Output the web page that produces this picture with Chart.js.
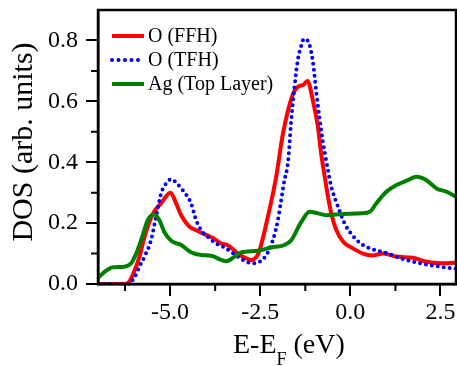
<!DOCTYPE html>
<html>
<head>
<meta charset="utf-8">
<script src="https://cdn.jsdelivr.net/npm/chart.js@4.4.0/dist/chart.umd.min.js"></script>
<style>
  html, body { margin: 0; padding: 0; background: #fff; }
  #wrap { width: 457px; height: 366px; }
</style>
</head>
<body>
<div id="wrap"><canvas id="dosChart" width="457" height="366"></canvas></div>
<script>
// O (FFH) projected DOS
const xFFH = [-7.0, -6.6, -6.3, -6.15, -6.0, -5.85, -5.71, -5.48, -5.25, -4.99, -4.85, -4.69, -4.46, -4.25, -4.05, -3.8, -3.58, -3.4, -3.12, -2.9, -2.75, -2.6, -2.52, -2.29, -2.06, -1.87, -1.59, -1.46, -1.3, -1.19, -1.04, -0.9, -0.81, -0.71, -0.62, -0.53, -0.39, -0.2, 0.07, 0.35, 0.6, 0.91, 1.28, 1.74, 2.11, 2.48, 2.93];
const yFFH = [0, 0, 0, 0.005, 0.04, 0.09, 0.155, 0.23, 0.265, 0.30, 0.27, 0.225, 0.188, 0.175, 0.164, 0.15, 0.133, 0.127, 0.10, 0.085, 0.079, 0.09, 0.11, 0.22, 0.35, 0.494, 0.625, 0.647, 0.655, 0.667, 0.603, 0.516, 0.428, 0.352, 0.286, 0.232, 0.177, 0.139, 0.117, 0.10, 0.094, 0.10, 0.09, 0.086, 0.073, 0.068, 0.07];

// O (TFH) projected DOS
const xTFH = [-7.0, -6.5, -6.2, -6.0, -5.85, -5.71, -5.53, -5.39, -5.25, -5.11, -4.97, -4.81, -4.65, -4.42, -4.28, -4.14, -3.91, -3.72, -3.49, -3.12, -2.89, -2.7, -2.52, -2.33, -2.15, -2.01, -1.92, -1.83, -1.73, -1.64, -1.55, -1.46, -1.36, -1.29, -1.16, -1.04, -0.94, -0.85, -0.76, -0.67, -0.53, -0.34, -0.16, 0.07, 0.35, 0.63, 1.04, 1.46, 2.02, 2.48, 2.93];
const yTFH = [0, 0, 0, 0.019, 0.057, 0.09, 0.144, 0.22, 0.297, 0.33, 0.344, 0.33, 0.308, 0.265, 0.21, 0.177, 0.15, 0.133, 0.12, 0.09, 0.073, 0.068, 0.073, 0.095, 0.144, 0.21, 0.275, 0.34, 0.40, 0.538, 0.647, 0.734, 0.784, 0.805, 0.794, 0.73, 0.625, 0.54, 0.465, 0.405, 0.32, 0.253, 0.199, 0.158, 0.128, 0.114, 0.10, 0.082, 0.066, 0.057, 0.05];

// Ag (Top Layer) DOS
const xAg = [-7.0, -6.82, -6.59, -6.27, -6.08, -5.94, -5.76, -5.62, -5.44, -5.3, -5.16, -4.97, -4.69, -4.42, -4.14, -3.86, -3.6, -3.44, -3.21, -3.03, -2.57, -2.19, -1.83, -1.64, -1.36, -1.13, -0.9, -0.67, -0.2, 0.3, 0.54, 0.72, 1.0, 1.28, 1.6, 1.83, 2.11, 2.39, 2.67, 2.93];
const yAg = [0.019, 0.04, 0.055, 0.057, 0.068, 0.10, 0.16, 0.21, 0.228, 0.21, 0.171, 0.142, 0.128, 0.104, 0.095, 0.093, 0.08, 0.075, 0.09, 0.104, 0.109, 0.12, 0.128, 0.144, 0.204, 0.237, 0.232, 0.226, 0.23, 0.232, 0.237, 0.265, 0.303, 0.325, 0.341, 0.352, 0.341, 0.314, 0.303, 0.286];

const seriesNames = ['O (FFH)', 'O (TFH)', 'Ag (Top Layer)'];
const xMinorTicks = [-6.25, -3.75, -1.25, 1.25];
const yMinorTicks = [0.1, 0.3, 0.5, 0.7];

const serif = "'Liberation Serif', 'Times New Roman', serif";
const toPts = (xs, ys) => xs.map((x, i) => ({ x: x, y: ys[i] }));

// box, minor ticks, axis titles and legend
const extras = {
  id: 'extras',
  afterDraw(chart) {
    const ctx = chart.ctx;
    const a = chart.chartArea;
    const xs = chart.scales.x, ys = chart.scales.y;
    ctx.save();
    ctx.strokeStyle = '#000';
    ctx.lineWidth = 2.5;
    ctx.strokeRect(a.left, a.top, a.right - a.left, a.bottom - a.top);

    ctx.lineWidth = 2;
    ctx.beginPath();
    xMinorTicks.forEach(v => {
      const px = xs.getPixelForValue(v);
      ctx.moveTo(px, a.bottom);
      ctx.lineTo(px, a.bottom + 7);
    });
    yMinorTicks.forEach(v => {
      const py = ys.getPixelForValue(v);
      ctx.moveTo(a.left, py);
      ctx.lineTo(a.left - 7, py);
    });
    ctx.stroke();

    // y title
    ctx.fillStyle = '#000';
    ctx.save();
    ctx.translate(24, 142);
    ctx.rotate(-Math.PI / 2);
    ctx.font = '30px ' + serif;
    ctx.textAlign = 'center';
    ctx.textBaseline = 'middle';
    ctx.fillText('DOS (arb. units)', 0, 0);
    ctx.restore();

    // x title with subscript F
    ctx.textAlign = 'left';
    ctx.textBaseline = 'alphabetic';
    let tx = 233;
    ctx.font = '28px ' + serif;
    ctx.fillText('E-E', tx, 353);
    tx += ctx.measureText('E-E').width;
    ctx.font = '18px ' + serif;
    ctx.fillText('F', tx, 365);
    tx += ctx.measureText('F').width;
    ctx.font = '28px ' + serif;
    ctx.fillText(' (eV)', tx, 353);

    // legend
    const rows = [36, 60, 84];
    chart.data.datasets.forEach((ds, i) => {
      ctx.beginPath();
      ctx.strokeStyle = ds.borderColor;
      ctx.lineWidth = ds.borderWidth;
      ctx.lineCap = ds.borderCapStyle || 'butt';
      ctx.setLineDash(ds.borderDash ? [0, 6.5] : []);
      ctx.moveTo(112, rows[i]);
      ctx.lineTo(144, rows[i]);
      ctx.stroke();
      ctx.setLineDash([]);
      ctx.font = '20px ' + serif;
      ctx.textBaseline = 'middle';
      ctx.fillStyle = '#000';
      ctx.fillText(seriesNames[i], 148, rows[i] + 1);
    });
    ctx.restore();
  }
};

function drawChart() {
  new Chart(document.getElementById('dosChart'), {
    type: 'line',
    data: {
      datasets: [
        { data: toPts(xFFH, yFFH), borderColor: '#ff0000', borderWidth: 4, order: 3 },
        { data: toPts(xTFH, yTFH), borderColor: '#0000ff', borderWidth: 4, borderDash: [0, 6], borderCapStyle: 'round', order: 2 },
        { data: toPts(xAg, yAg), borderColor: '#008000', borderWidth: 4, order: 1 }
      ]
    },
    options: {
      responsive: false,
      animation: false,
      layout: { padding: { top: 10, right: 1, left: 0, bottom: 0 } },
      elements: {
        point: { radius: 0 },
        line: { cubicInterpolationMode: 'monotone', fill: false }
      },
      plugins: { legend: { display: false }, tooltip: { enabled: false } },
      scales: {
        x: {
          type: 'linear',
          min: -7,
          max: 2.93,
          afterFit: s => { s.height = 82; s.paddingLeft = 0; s.paddingRight = 0; },
          border: { display: true, color: '#000', width: 2.5 },
          grid: { drawOnChartArea: false, drawTicks: true, tickLength: 12, color: '#000', lineWidth: 2 },
          ticks: {
            stepSize: 2.5,
            includeBounds: false,
            maxRotation: 0,
            padding: 2,
            color: '#000',
            font: { family: serif, size: 24 },
            callback: v => v.toFixed(1)
          }
        },
        y: {
          min: 0,
          max: 0.9,
          afterFit: s => { s.width = 98; s.paddingTop = 0; s.paddingBottom = 0; },
          border: { display: true, color: '#000', width: 2.5 },
          grid: { drawOnChartArea: false, drawTicks: true, tickLength: 12, color: '#000', lineWidth: 2 },
          ticks: {
            stepSize: 0.2,
            includeBounds: false,
            padding: 8,
            color: '#000',
            font: { family: serif, size: 24 },
            callback: v => v.toFixed(1)
          }
        }
      }
    },
    plugins: [extras]
  });
}

Promise.all([
  document.fonts.load("24px 'Liberation Serif'"),
  document.fonts.load("30px 'Liberation Serif'")
]).then(drawChart, drawChart);
</script>
</body>
</html>
